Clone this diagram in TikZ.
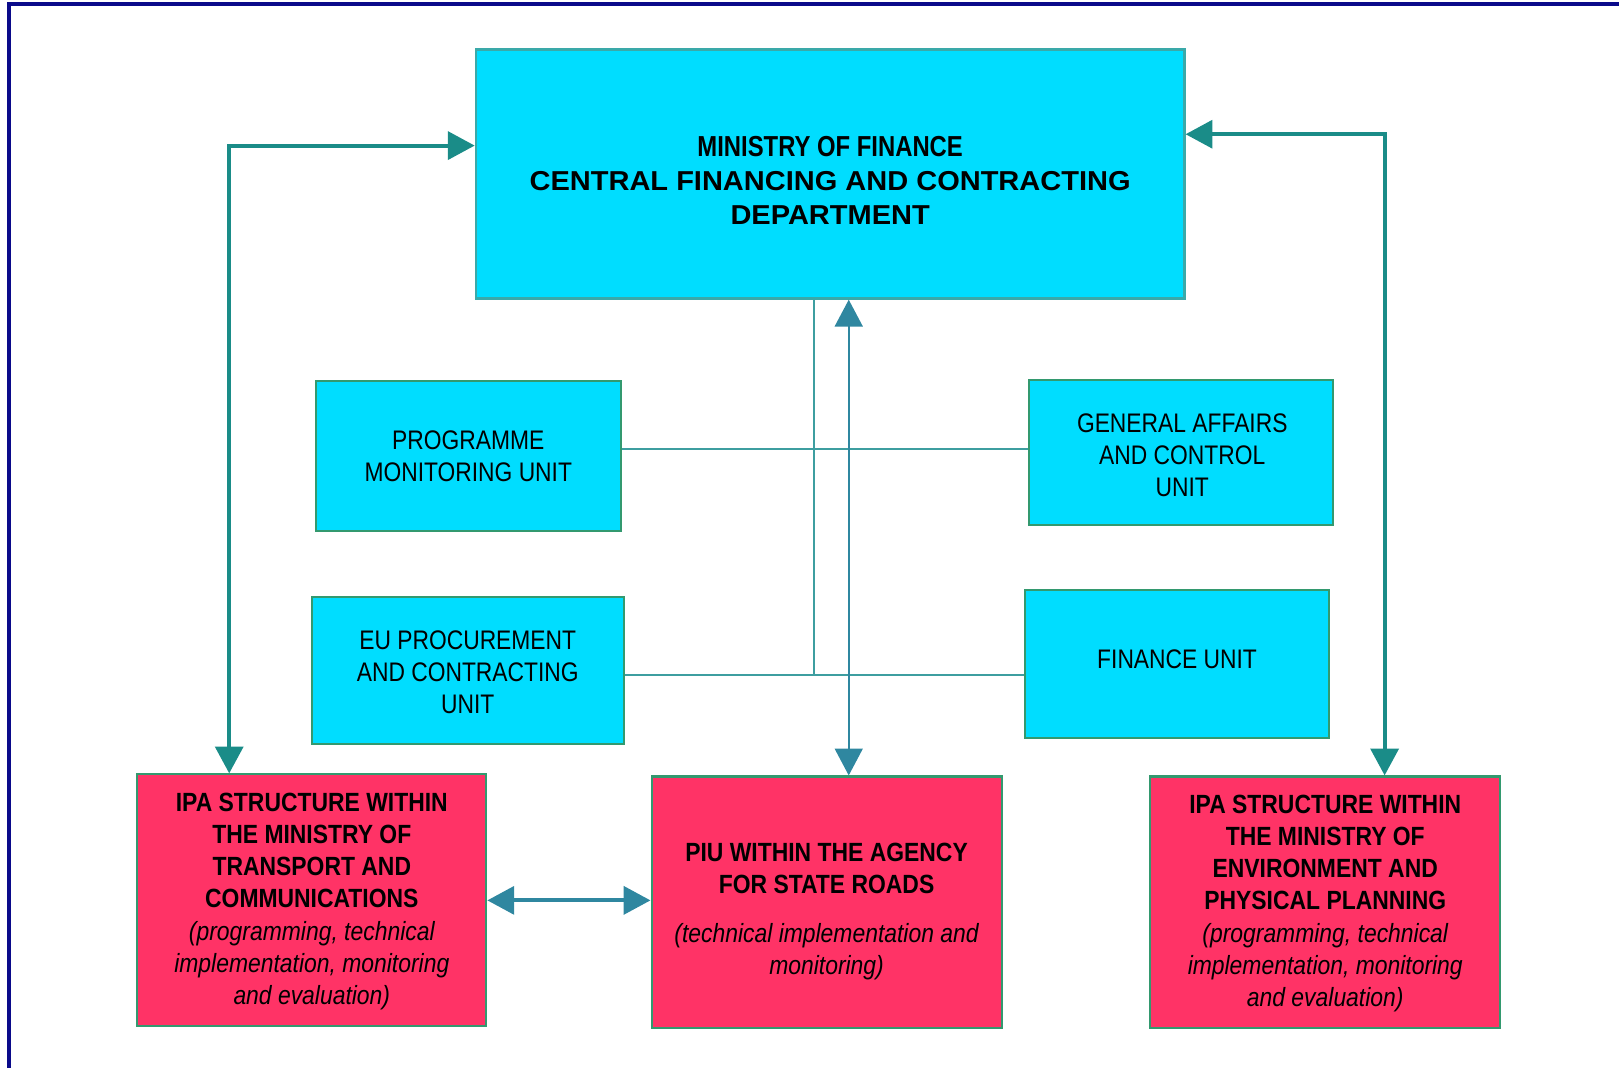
\documentclass[tikz,border=0pt]{standalone}
\usepackage{fontspec}
\setmainfont{Liberation Sans}
\newfontfamily\NarA{Liberation Sans}[FakeStretch=0.825]
\newfontfamily\WidB{Liberation Sans}[FakeStretch=1.06]
\newfontfamily\NarC{Liberation Sans}[FakeStretch=0.85]
\newfontfamily\NarD{Liberation Sans}[FakeStretch=0.87]
\usetikzlibrary{arrows.meta}
\definecolor{navyf}{HTML}{0A0A8A}
\definecolor{cyanf}{HTML}{00DDFF}
\definecolor{redf}{HTML}{FF3366}
\definecolor{mofline}{HTML}{3AA9A9}
\definecolor{boxline}{HTML}{33996F}
\definecolor{tealarr}{HTML}{1A8C88}
\definecolor{bluearr}{HTML}{2F87A0}
\definecolor{thinline}{HTML}{3E9EA0}
\tikzset{
  cbox/.style={rectangle, draw=boxline, fill=cyanf, line width=2pt, inner sep=0pt},
  mofbox/.style={rectangle, draw=mofline, fill=cyanf, line width=2.5pt, inner sep=0pt},
  rbox/.style={rectangle, draw=boxline, fill=redf, line width=2pt, inner sep=0pt},
  moftext/.style={align=center, inner sep=0pt, font=\fontsize{26.5}{33}\selectfont\WidB\bfseries},
  midtext/.style={align=center, inner sep=0pt, font=\fontsize{26}{31}\selectfont\NarC},
  redtext/.style={align=center, inner sep=0pt, font=\fontsize{25.5}{31.2}\selectfont\NarD\bfseries},
  tealconn/.style={draw=tealarr, line width=3.8pt, <->},
  blueconn/.style={draw=bluearr, line width=2pt, <->},
  blueconnthick/.style={draw=bluearr, line width=3.8pt, <->},
  thinconn/.style={draw=thinline, line width=2pt},
  framestyle/.style={draw=navyf, line width=3.6pt}
}
\begin{document}
\begin{tikzpicture}[x=1pt,y=-1pt,>={Triangle[length=26pt,width=27pt]}]
\useasboundingbox (0,0) rectangle (1568,1034);
% frame
\draw[framestyle] (9,1040) -- (9,4) -- (1575,4);

% boxes
\node[mofbox, minimum width=686pt, minimum height=241pt] (mof) at (804,168.5) {};
\node[cbox, minimum width=295pt, minimum height=145pt] (pmu) at (453.5,441.5) {};
\node[cbox, minimum width=294pt, minimum height=140pt] (gac) at (1144,438) {};
\node[cbox, minimum width=302pt, minimum height=143pt] (eup) at (453,649.5) {};
\node[cbox, minimum width=294pt, minimum height=144pt] (fin) at (1140,643) {};
\node[rbox, minimum width=338pt, minimum height=244pt] (ipat) at (302,872) {};
\node[rbox, minimum width=339pt, minimum height=244pt] (piu) at (800.5,874) {};
\node[rbox, minimum width=339pt, minimum height=244pt] (ipae) at (1283.5,874) {};

% texts
\node[moftext] (moft) at (804,175) {{\fontsize{28}{33}\selectfont\NarA\bfseries MINISTRY OF FINANCE}\\CENTRAL FINANCING AND CONTRACTING\\DEPARTMENT};
\node[midtext] (pmut) at (453.5,441.5) {PROGRAMME\\MONITORING UNIT};
\node[midtext] (gact) at (1145,441) {GENERAL AFFAIRS\\AND CONTROL\\UNIT};
\node[midtext] (eupt) at (453,651) {EU PROCUREMENT\\AND CONTRACTING\\UNIT};
\node[midtext] (fint) at (1140,638) {FINANCE UNIT};
\node[redtext] (ipatt) at (302,873) {IPA STRUCTURE WITHIN\\THE MINISTRY OF\\TRANSPORT AND\\COMMUNICATIONS\\\mdseries\itshape (programming, technical\\\mdseries\itshape implementation, monitoring\\\mdseries\itshape and evaluation)};
\node[redtext] (piut) at (800.5,883) {PIU WITHIN THE AGENCY\\FOR STATE ROADS\\[16pt]\mdseries\itshape (technical implementation and\\\mdseries\itshape monitoring)};
\node[redtext] (ipaet) at (1283.5,875) {IPA STRUCTURE WITHIN\\THE MINISTRY OF\\ENVIRONMENT AND\\PHYSICAL PLANNING\\\mdseries\itshape (programming, technical\\\mdseries\itshape implementation, monitoring\\\mdseries\itshape and evaluation)};

% helper coordinates
\coordinate (lt) at (222,141);
\coordinate (rt) at (1341,130);
\coordinate (cv) at (822,0);
\coordinate (tv) at (788,0);
\coordinate (h1) at (0,435);
\coordinate (h2) at (0,654);

% thin connectors
\draw[thinconn] (pmu.east |- h1) -- (gac.west |- h1);
\draw[thinconn] (eup.east |- h2) -- (fin.west |- h2);
\draw[thinconn] (mof.south -| tv) -- (tv |- h2);

% arrows
\draw[tealconn] (ipat.north -| lt) -- (lt) -- (mof.west |- lt);
\draw[tealconn] (mof.east |- rt) -- (rt) -- (ipae.north -| rt);
\draw[blueconn] (mof.south -| cv) -- (piu.north -| cv);
\draw[blueconnthick] (ipat.east) -- (ipat.east -| piu.west);
\end{tikzpicture}
\end{document}
